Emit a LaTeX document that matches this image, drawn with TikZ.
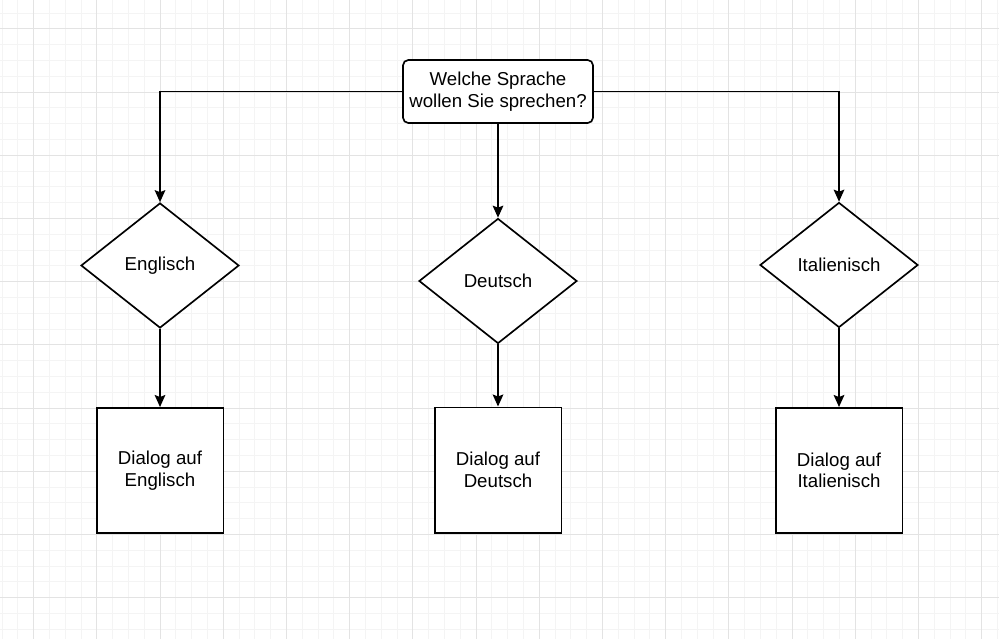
\documentclass[tikz,border=0pt]{standalone}
\usepackage{fontspec}
\setmainfont{Liberation Sans}
\usetikzlibrary{shapes.geometric,arrows.meta}
\definecolor{minorc}{RGB}{244,244,244}
\definecolor{majorc}{RGB}{227,227,227}
\begin{document}
\begin{tikzpicture}[x=0.75pt,y=-0.75pt,
  lbl/.style={font=\fontsize{14}{16.3}\selectfont,align=center,text=black},
  topbox/.style={lbl,draw=black,line width=1.25pt,fill=white,rounded corners=4pt,inner sep=0pt,minimum width=142.5pt,minimum height=47.25pt},
  dec/.style={lbl,diamond,draw=black,line width=1.25pt,fill=white,inner sep=0pt,minimum width=118.5pt,minimum height=93.75pt},
  act/.style={lbl,rectangle,draw=black,line width=1.25pt,fill=white,inner sep=0pt,minimum width=95pt,minimum height=94pt},
  conn/.style={draw=black,line width=1.25pt,-{Stealth[length=9pt,width=8pt,inset=1.5pt]}},
  minorgrid/.style={draw=minorc,line width=0.75pt},
  majorgrid/.style={draw=majorc,line width=0.75pt}]
\useasboundingbox (0,0) rectangle (999,639);
\fill[white] (0,0) rectangle (999,639);
\begin{scope}
\clip (0,0) rectangle (999,639);
\foreach \i in {0,...,63} \draw[minorgrid] ({2.0+15.8*\i},0) -- ({2.0+15.8*\i},639);
\foreach \i in {0,...,41} \draw[minorgrid] (0,{-2.8+15.8*\i}) -- (999,{-2.8+15.8*\i});
\foreach \i in {0,...,15} \draw[majorgrid] ({33.6+63.2*\i},0) -- ({33.6+63.2*\i},639);
\foreach \i in {0,...,11} \draw[majorgrid] (0,{-34.4+63.2*\i}) -- (999,{-34.4+63.2*\i});
\end{scope}
\node[topbox] (q) at (498,91.5) {\raisebox{-1.5pt}{\shortstack{Welche Sprache\\wollen Sie sprechen?}}};
\node[dec] (en) at (160,265.5) {Englisch};
\node[dec] (de) at (498,281) {Deutsch};
\node[dec] (it) at (839,265) {Italienisch};
\node[act] (den) at (160,470.5) {\raisebox{-1.5pt}{\shortstack{Dialog auf\\Englisch}}};
\node[act] (dde) at (498,470) {\raisebox{-1.5pt}{\shortstack{Dialog auf\\Deutsch}}};
\node[act] (dit) at (839,470.5) {\raisebox{-1.5pt}{\shortstack{Dialog auf\\Italienisch}}};
\draw[conn] (q.west) -| (en.north);
\draw[conn] (q.east) -| (it.north);
\draw[conn] (q.south) -- (de.north);
\draw[conn] (en.south) -- (den.north);
\draw[conn] (de.south) -- (dde.north);
\draw[conn] (it.south) -- (dit.north);
\end{tikzpicture}
\end{document}
